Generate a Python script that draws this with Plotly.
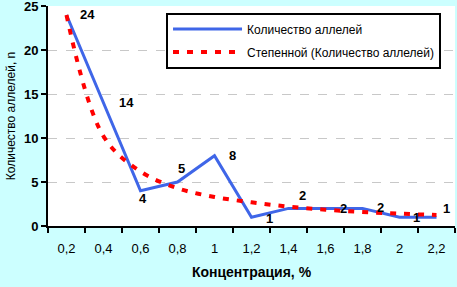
import plotly.graph_objects as go

categories = ["0,2", "0,4", "0,6", "0,8", "1", "1,2", "1,4", "1,6", "1,8", "2", "2,2"]
alleles = [24, 14, 4, 5, 8, 1, 2, 2, 2, 1, 1]
trend = [24, 10.2, 6.2, 4.3, 3.3, 2.7, 2.2, 1.85, 1.6, 1.4, 1.25]
label_shift = [(21, 0), (23, 0), (2, -8), (4, 14), (18, 0), (18, -1),
               (14, 13), (18, 0), (18, 1), (17, 0), (10, 9)]

FONT = "Liberation Sans, Arial, sans-serif"

fig = go.Figure()
fig.add_trace(go.Scatter(
    x=categories, y=alleles, mode="lines", name="Количество аллелей",
    line=dict(color="#3F66E8", width=3), legendgroup="a"))
fig.add_trace(go.Scatter(
    x=categories, y=trend, mode="lines", name="Степенной (Количество аллелей)",
    line=dict(color="#FF0000", width=4, dash="6px,8px", shape="spline"),
    legendgroup="b"))

for i, (v, (dx, dy)) in enumerate(zip(alleles, label_shift)):
    fig.add_annotation(x=i, y=v, text=str(v), showarrow=False,
                       xshift=dx, yshift=dy,
                       font=dict(family=FONT, size=13, color="black", weight="bold"))

fig.update_layout(
    width=457, height=287,
    margin=dict(l=48, r=2, t=6, b=61, autoexpand=False),
    paper_bgcolor="#CCFFFF", plot_bgcolor="white",
    font=dict(family=FONT, color="black"),
    showlegend=True,
    legend=dict(x=0.29, y=0.97, xanchor="left", yanchor="top",
                bgcolor="white", bordercolor="black", borderwidth=2,
                font=dict(size=12, family=FONT), tracegroupgap=4,
                itemwidth=69),
    xaxis=dict(type="category", range=[-0.5, 10.5], tickson="boundaries",
               automargin=False,
               ticks="outside", ticklen=5, tickwidth=2, tickcolor="black",
               showline=True, linecolor="black", linewidth=2,
               showgrid=False, tickfont=dict(size=13),
               ticklabelstandoff=9,
               title=dict(text="Концентрация, %", standoff=13,
                          font=dict(size=14, weight="bold"))),
    yaxis=dict(range=[0, 25.02], tickvals=[0, 5, 10, 15, 20, 25],
               automargin=False, ticklabeloverflow="allow",
               ticks="outside", ticklen=5,
               tickwidth=2, tickcolor="black",
               showline=True, linecolor="black", linewidth=2,
               showgrid=True, gridcolor="#C8C8C8", griddash="dash", gridwidth=1,
               zeroline=False,
               tickfont=dict(size=13, weight="bold"),
               title=dict(text="Количество аллелей, n", standoff=6,
                          font=dict(size=12))),
)

fig.write_html("out.html", config={"displayModeBar": False})
with open("out.html", encoding="utf-8") as f:
    html = f.read()
html = html.replace("<body>", '<body style="margin:0;padding:0;background:#CCFFFF">', 1)
with open("out.html", "w", encoding="utf-8") as f:
    f.write(html)
